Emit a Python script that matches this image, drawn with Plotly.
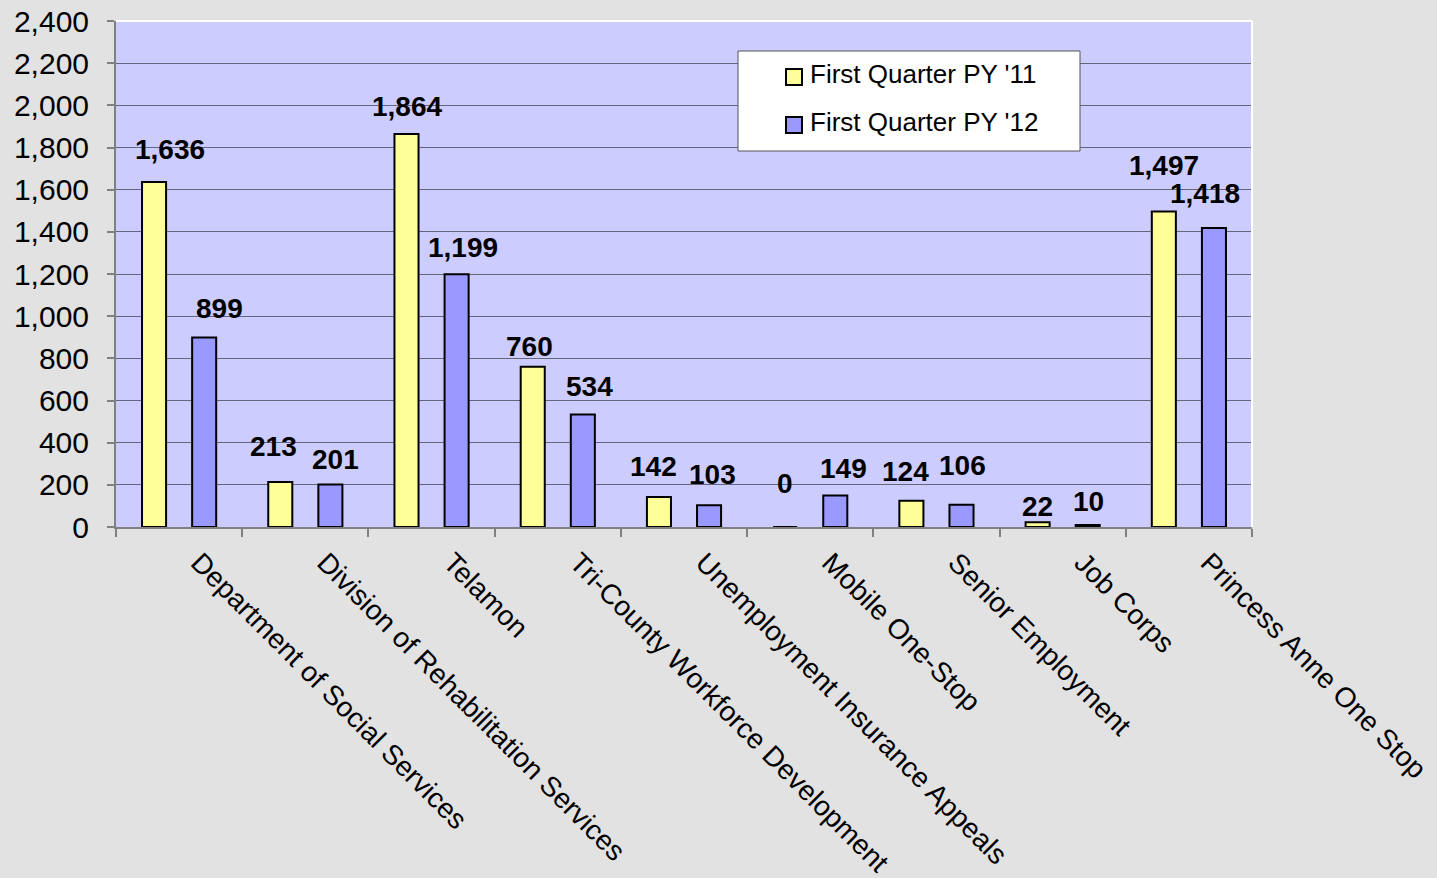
import plotly.graph_objects as go

categories = [
    "Department of Social Services",
    "Division of Rehabilitation Services",
    "Telamon",
    "Tri-County Workforce Development",
    "Unemployment Insurance Appeals",
    "Mobile One-Stop",
    "Senior Employment",
    "Job Corps",
    "Princess Anne One Stop",
]
series_names = ["First Quarter PY '11", "First Quarter PY '12"]
py11 = [1636, 213, 1864, 760, 142, 0, 124, 22, 1497]
py12 = [899, 201, 1199, 534, 103, 149, 106, 10, 1418]
y_ticks = list(range(0, 2401, 200))

colors = ["#FFFF99", "#9999FF"]
FONT = "Liberation Sans, Arial, sans-serif"

W, H = 1437, 878
ML, MR, MT, MB = 116, 185, 21, 351
PW, PH = W - ML - MR, H - MT - MB


def px_x(x):
    return (x - ML) / PW


def px_y(y):
    return (H - MB - y) / PH


fig = go.Figure()
for i, (name, vals) in enumerate(zip(series_names, [py11, py12])):
    fig.add_trace(go.Bar(
        x=categories, y=vals, name=name, showlegend=False,
        marker=dict(color=colors[i], line=dict(color="black", width=2)),
    ))

# label placement nudges (style only, in pixels): (series, category index) -> (dx, dy)
nudge = {
    (0, 0): (16, 2), (1, 0): (15, -2), (0, 1): (-7, 5), (1, 1): (5, -6),
    (0, 2): (0, -3), (1, 2): (6, -4), (0, 3): (-3, -11), (1, 3): (7, -3),
    (0, 4): (-6, 0), (1, 4): (3, 0), (0, 5): (0, 13), (1, 5): (8, -4),
    (0, 6): (-6, -2), (1, 6): (1, 8), (0, 7): (0, -15), (1, 7): (1, -8),
    (0, 8): (0, 15), (1, 8): (-9, 4),
}

annotations = []
for i, vals in enumerate([py11, py12]):
    for k, (c, v) in enumerate(zip(categories, vals)):
        dx, dy = nudge.get((i, k), (0, 0))
        annotations.append(dict(
            x=c, y=v, xref="x", yref="y", text=f"{v:,}",
            showarrow=False, xshift=(-25 if i == 0 else 25) + dx, yshift=31 + dy,
            yanchor="middle",
            font=dict(family=FONT, size=28, color="black", weight="bold"),
        ))

# legend drawn as box + swatches + labels
legend_box = (738, 51, 1080, 151)
shapes = [
    dict(type="rect", xref="paper", yref="paper",
         x0=px_x(legend_box[0]), x1=px_x(legend_box[2]),
         y0=px_y(legend_box[3]), y1=px_y(legend_box[1]),
         fillcolor="white", line=dict(color="#555555", width=1), layer="above"),
]
for i, name in enumerate(series_names):
    top = 69 + 48 * i
    shapes.append(dict(type="rect", xref="paper", yref="paper",
                       x0=px_x(786), x1=px_x(802), y0=px_y(top + 16), y1=px_y(top),
                       fillcolor=colors[i], line=dict(color="black", width=2),
                       layer="above"))
    annotations.append(dict(
        x=px_x(808), y=px_y(74 + 48 * i), xref="paper", yref="paper",
        text=name, showarrow=False, xanchor="left", yanchor="middle",
        font=dict(family=FONT, size=26, color="black"),
    ))

shapes += [
    dict(type="line", xref="paper", yref="paper", x0=0, x1=1, y0=1, y1=1,
         line=dict(color="white", width=2)),
    dict(type="line", xref="paper", yref="paper", x0=1, x1=1, y0=0, y1=1,
         line=dict(color="white", width=2)),
]

fig.update_layout(
    width=W, height=H,
    margin=dict(l=ML, r=MR, t=MT, b=MB, autoexpand=False),
    paper_bgcolor="#E2E2E2",
    plot_bgcolor="#CCCCFF",
    barmode="group", bargap=0.206, bargroupgap=0.52,
    font=dict(family=FONT, size=28, color="black"),
    showlegend=False,
    annotations=annotations,
    shapes=shapes,
)
fig.update_yaxes(
    range=[0, 2400], tickvals=y_ticks, tickformat=",",
    showgrid=True, gridcolor="#66667A", gridwidth=1,
    showline=True, linecolor="#808080", linewidth=2,
    ticks="outside", ticklen=7, tickcolor="#808080", tickwidth=2,
    ticklabelstandoff=12,
    tickfont=dict(family=FONT, size=30, color="black"),
    zeroline=False, fixedrange=True,
)
fig.update_xaxes(
    tickangle=45, tickson="boundaries",
    showline=True, linecolor="#808080", linewidth=2,
    ticks="outside", ticklen=8, tickcolor="#808080", tickwidth=2,
    ticklabelshift=20, ticklabelstandoff=6,
    tickfont=dict(family=FONT, size=28, color="black"),
    automargin=False, fixedrange=True,
)

fig.write_html(
    "out.html",
    config={"displayModeBar": False},
    post_script="document.body.style.margin='0';document.body.style.padding='0';",
)
